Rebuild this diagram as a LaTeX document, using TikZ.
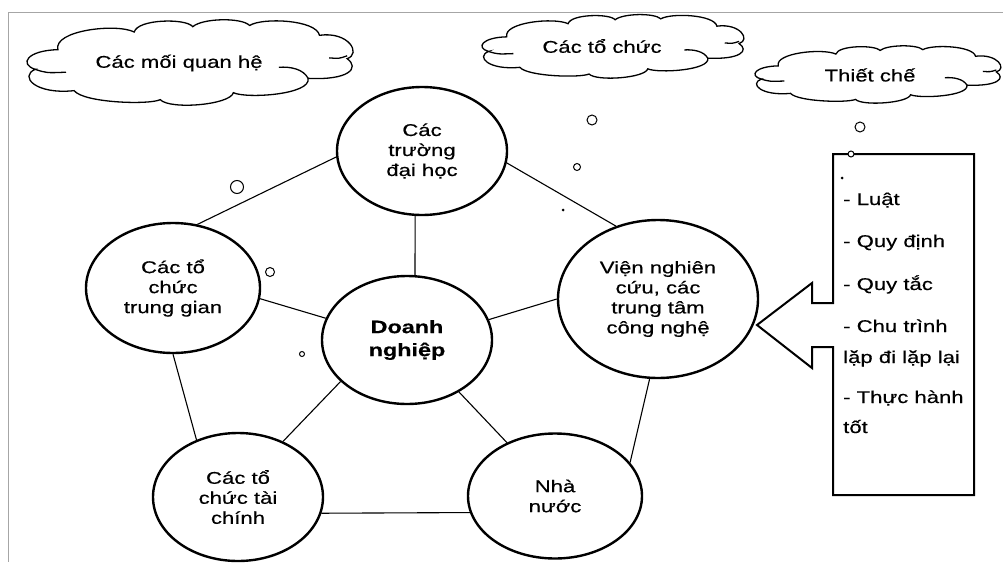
\documentclass[tikz,border=0pt]{standalone}
\usepackage{fontspec}
\setmainfont{Liberation Sans}[FakeStretch=1.3, FakeBold=0.5]
\usetikzlibrary{shapes.geometric}

\tikzset{
  actor/.style={draw, ellipse, line width=2.4pt, minimum width=170pt, minimum height=128pt,
    inner sep=0pt, align=center, font=\fontsize{17}{20}\selectfont},
  link/.style={line width=1.1pt},
  cloudtext/.style={inner sep=0pt, font=\fontsize{17}{20}\selectfont},
  bubble/.style={line width=1pt},
  ruletext/.style={anchor=base west, inner sep=0pt, font=\fontsize{17}{20}\selectfont},
  cloudline/.pic={
    \draw[line width=1.3pt] (-0.95,0.13) .. controls (-1.05,0.0) and (-1.0,-0.33) .. (-0.81,-0.35) % left upper lobe
      .. controls (-0.84,-0.82) and (-0.45,-1.0) .. (-0.34,-0.78)
      .. controls (-0.32,-1.1) and (-0.02,-1.12) .. (0.02,-0.91)
      .. controls (0.08,-1.12) and (0.32,-1.14) .. (0.37,-0.94)
      .. controls (0.45,-1.14) and (0.78,-1.08) .. (0.80,-0.70)
      .. controls (0.98,-0.8) and (1.06,-0.25) .. (0.97,-0.13) % right upper lobe
      .. controls (1.05,0.1) and (0.98,0.4) .. (0.73,0.35) % right lower lobe
      .. controls (0.75,0.75) and (0.35,0.85) .. (0.27,0.70)
      .. controls (0.25,1.0) and (-0.12,1.12) .. (-0.18,0.87)
      .. controls (-0.25,1.0) and (-0.65,0.95) .. (-0.71,0.65)
      .. controls (-0.95,0.75) and (-1.05,0.3) .. cycle; % left lower lobe
    \draw[line width=1.3pt] (-0.95,0.13) .. controls (-0.88,0.22) .. (-0.76,0.2); % curls
    \draw[line width=1.3pt] (0.86,-0.15) .. controls (0.92,-0.13) .. (0.97,-0.2);
    \draw[line width=1.3pt] (0.73,0.35) .. controls (0.7,0.12) and (0.62,0.06) .. (0.55,0.08);
  },
}

\begin{document}
\begin{tikzpicture}[x=1pt,y=-1pt]
        \useasboundingbox (0,0) rectangle (1003,562);
        \draw[gray!70, line width=1pt] (1003,12) -- (8,12) -- (8,562); % frame

        % the five partners round the firm
        \node[actor] (truong) at (422,151) {Các\\trường\\đại học};
        \node[actor, minimum width=174pt, minimum height=130pt] (trunggian) at (173,288) {Các tổ\\chức\\trung gian};
        \node[actor, font=\fontsize{18}{23}\selectfont\bfseries] (dn) at (407,340) {Doanh\\nghiệp};
        \node[actor] (taichinh) at (238,497) {Các tổ\\chức tài\\chính};
        \node[actor, minimum width=174pt, minimum height=125pt] (nhanuoc) at (555,496) {Nhà\\nước};
        \node[actor, minimum width=200pt, minimum height=158pt] (vien) at (658,299) {Viện nghiên\\cứu, các\\trung tâm\\công nghệ};

        % links
        \draw[link] (truong.184) -- (trunggian.69);
        \draw[link] (truong.264) -- (dn.83);
        \draw[link] (truong.-8) -- (vien.120);
        \draw[link] (trunggian.-7) -- (dn.165);
        \draw[link] (trunggian.270) -- (taichinh.126);
        \draw[link] (dn.212) -- (taichinh.51);
        \draw[link] (dn.14) -- (vien.180);
        \draw[link] (dn.-45) -- (nhanuoc.132);
        \draw[link] (taichinh.-11) -- (nhanuoc.191);
        \draw[link] (vien.264) -- (nhanuoc.24);

        % clouds
        \pic[xscale=162.5, yscale=41] at (189.5,64) {cloudline};
        \pic[xscale=130.5, yscale=30.5] at (612.5,47.5) {cloudline};
        \pic[xscale=122.5, yscale=27.5] at (877.5,75.5) {cloudline};
        \node[cloudtext] (quanhe) at (179,63) {Các mối quan hệ};
        \node[cloudtext] (tochuc) at (602,46) {Các tổ chức};
        \node[cloudtext] (thietche) at (870,75) {Thiết chế};

        % thought bubbles
        \draw[bubble] (592,120) circle (5);
        \draw[bubble] (577,167) circle (3.5);
        \fill (563,210) circle (1.5);
        \draw[bubble] (860,127) circle (5);
        \draw[bubble] (237,187) circle (6.5);
        \draw[bubble] (270,272) circle (4.5);
        \draw[bubble] (302,354) circle (2.5);
        \fill (842,178) circle (1.5);

        % arrow box of rules
        \draw[line width=2pt] (833,154) -- (974,154) -- (974,495) -- (833,495) -- (833,347) -- (812,347)
          -- (812,368) -- (757,325) -- (812,283) -- (812,303) -- (833,303) -- cycle;
        \draw[bubble, fill=white] (851,154) circle (3);
        \node[ruletext] (r1) at (843,205) {- Luật};
        \node[ruletext] (r2) at (843,247) {- Quy định};
        \node[ruletext] (r3) at (843,290) {- Quy tắc};
        \node[ruletext] (r4) at (843,332) {- Chu trình};
        \node[ruletext] (r5) at (843,363) {lặp đi lặp lại};
        \node[ruletext] (r6) at (843,403) {- Thực hành};
        \node[ruletext] (r7) at (843,433) {tốt};
\end{tikzpicture}
\end{document}
